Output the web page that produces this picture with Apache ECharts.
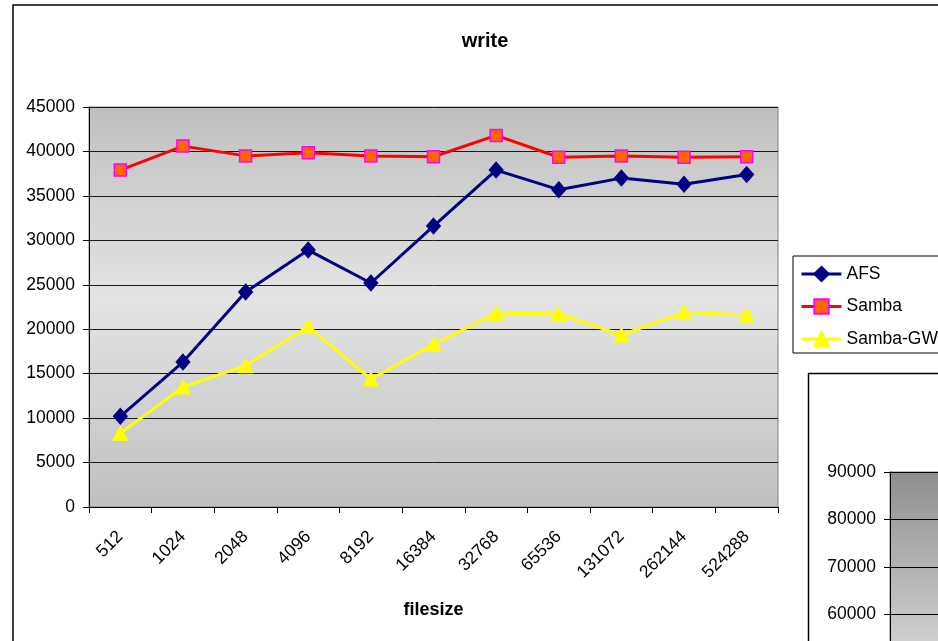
<!DOCTYPE html>
<html><head><meta charset="utf-8">
<script src="https://cdn.jsdelivr.net/npm/echarts@6/dist/echarts.min.js"></script>
<style>html,body{margin:0;padding:0;background:#fff}#c{width:938px;height:641px}</style>
</head><body><div id="c"></div>
<script>
const categories = ['512','1024','2048','4096','8192','16384','32768','65536','131072','262144','524288'];
const afs = [10200,16300,24200,28900,25200,31600,37900,35700,37000,36300,37400];
const samba = [37900,40600,39500,39850,39500,39400,41800,39350,39500,39350,39400];
const sambaGW = [8300,13500,15900,20300,14400,18300,21800,21750,19350,21900,21600];
const seriesNames = ['AFS','Samba','Samba-GW'];
const yTicks = {min:0,max:45000,interval:5000};
const y2Ticks = {min:50000,max:90000,interval:10000};

const F = 'Liberation Sans, Arial, sans-serif';
const plain = v => String(v);
const chart = echarts.init(document.getElementById('c'), null, {renderer:'canvas'});
chart.setOption({
  animation:false,
  backgroundColor:'#fff',
  title:{text:'write',left:480,textAlign:'center',top:26,textStyle:{fontFamily:F,fontSize:20,fontWeight:'bold',color:'#000'}},
  legend:{
    orient:'vertical',left:793,top:256,padding:[9,40,5,7],itemGap:14.5,itemWidth:40,itemHeight:18,
    borderColor:'#000',borderWidth:1,backgroundColor:'#fff',
    lineStyle:{width:3},
    textStyle:{fontFamily:F,fontSize:17.5,lineHeight:18,color:'#000'},
    data:seriesNames
  },
  graphic:[
    {type:'rect',shape:{x:13,y:5,width:1100,height:800},style:{fill:null,stroke:'#000',lineWidth:1.5},z:-10,silent:true},
    {type:'rect',shape:{x:808.5,y:373.5,width:400,height:400},style:{fill:'#fff',stroke:'#000',lineWidth:1.5},z:-5,silent:true}
  ],
  grid:[
    {left:89,top:107,width:689,height:400,show:true,borderColor:'#808080',borderWidth:1,outerBoundsMode:'none',
     backgroundColor:new echarts.graphic.LinearGradient(0,0,0,1,[{offset:0,color:'#bfbfbf'},{offset:0.48,color:'#e4e4e4'},{offset:1,color:'#bfbfbf'}])},
    {left:890,top:472,width:300,height:190,show:true,borderColor:'#808080',borderWidth:1,outerBoundsMode:'none',
     backgroundColor:new echarts.graphic.LinearGradient(0,0,0,1,[{offset:0,color:'#8f8f8f'},{offset:1,color:'#d6d6d6'}])}
  ],
  xAxis:[
    {type:'category',gridIndex:0,data:categories,boundaryGap:true,
     name:'filesize',nameLocation:'middle',nameGap:94,nameTextStyle:{fontFamily:F,fontSize:18,fontWeight:'bold',color:'#000'},
     axisLine:{lineStyle:{color:'#000',width:1}},
     axisTick:{show:true,length:6,alignWithLabel:false,lineStyle:{color:'#000'}},
     axisLabel:{rotate:45,margin:27,fontFamily:F,fontSize:17.5,color:'#000',interval:0},
     splitLine:{show:false}},
    {type:'category',gridIndex:1,data:[''],show:false}
  ],
  yAxis:[
    {type:'value',gridIndex:0,min:yTicks.min,max:yTicks.max,interval:yTicks.interval,
     axisLine:{show:true,lineStyle:{color:'#000',width:1}},
     axisTick:{show:true,length:6,lineStyle:{color:'#000'}},
     axisLabel:{margin:14,fontFamily:F,fontSize:17.5,color:'#000',formatter:plain},
     splitLine:{show:true,lineStyle:{color:'#1a1a1a',width:1}}},
    {type:'value',gridIndex:1,min:y2Ticks.min,max:y2Ticks.max,interval:y2Ticks.interval,
     axisLine:{show:true,lineStyle:{color:'#000',width:1}},
     axisTick:{show:true,length:6,lineStyle:{color:'#000'}},
     axisLabel:{margin:14,fontFamily:F,fontSize:17.5,color:'#000',formatter:plain},
     splitLine:{show:true,lineStyle:{color:'#000',width:1}}}
  ],
  series:[
    {name:seriesNames[0],type:'line',xAxisIndex:0,yAxisIndex:0,data:afs,
     lineStyle:{color:'#000080',width:3},itemStyle:{color:'#000080',borderColor:'#000080',borderWidth:1},
     symbol:'diamond',symbolSize:[14,16],z:3},
    {name:seriesNames[1],type:'line',xAxisIndex:0,yAxisIndex:0,data:samba,
     lineStyle:{color:'#ff0000',width:3},itemStyle:{color:'#ff6600',borderColor:'#ff00ff',borderWidth:1.5},
     symbol:'rect',symbolSize:12,z:4},
    {name:seriesNames[2],type:'line',xAxisIndex:0,yAxisIndex:0,data:sambaGW,
     lineStyle:{color:'#ffff00',width:3},itemStyle:{color:'#ffff00',borderColor:'#ffff00',borderWidth:1},
     symbol:'triangle',symbolSize:[15,14],z:2}
  ]
});
</script></body></html>
